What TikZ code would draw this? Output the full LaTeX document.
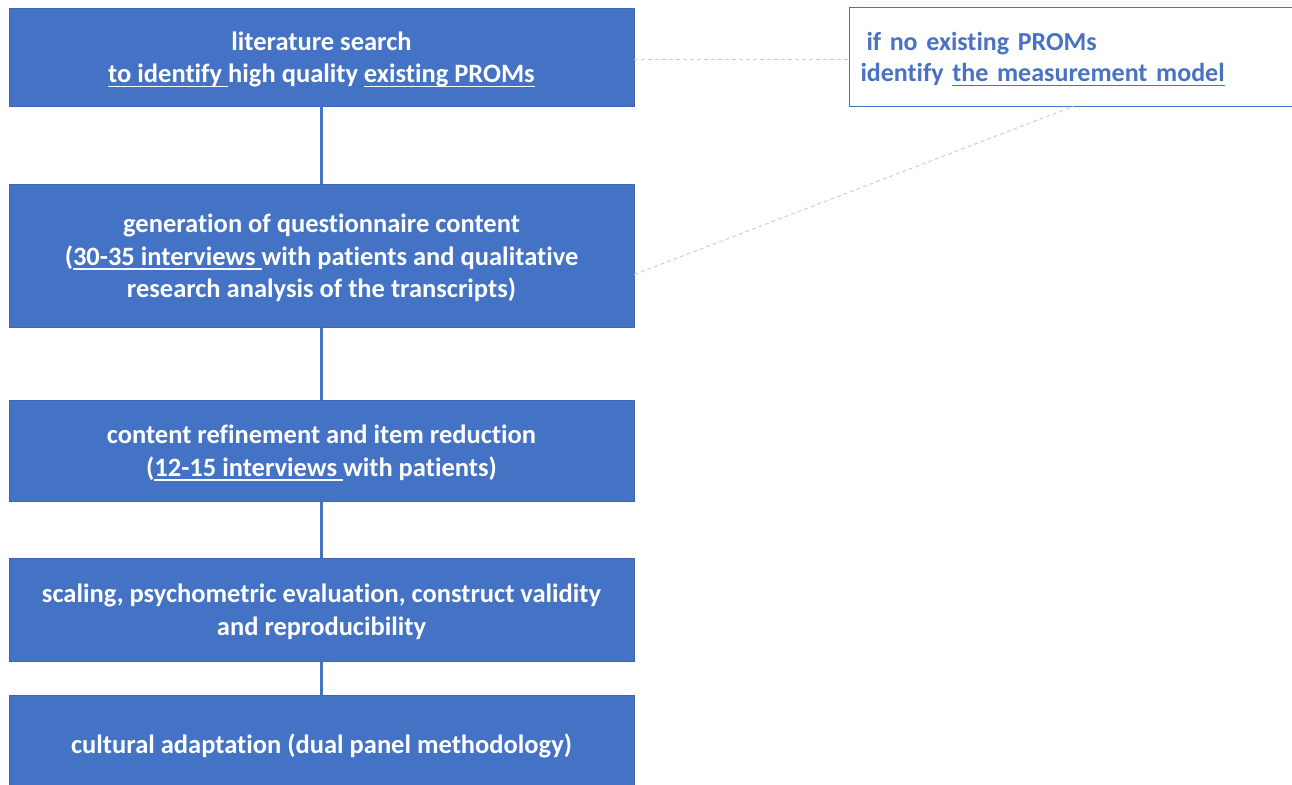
\documentclass[tikz,border=0pt]{standalone}
\usepackage{fontspec}
\setmainfont{Carlito}[Ligatures=NoCommon]
\definecolor{officeblue}{HTML}{4472C4}
\definecolor{notetext}{HTML}{4A72C2}
\definecolor{linkgray}{HTML}{C9CDD4}
\definecolor{linkblue}{HTML}{C3D2EC}
% underline at a fixed depth, in the current text colour
\newcommand{\ulx}[1]{\setbox0=\hbox{#1}\rlap{\rule[-4.5pt]{\wd0}{1.6pt}}\box0}
% a block of centred or left-aligned lines, set slightly low in its box
\newcommand{\ctext}[1]{\raisebox{-3pt}[\height][\depth]{\begin{tabular}{@{}c@{}}#1\end{tabular}}}
\newcommand{\ltext}[1]{\raisebox{-3pt}[\height][\depth]{\begin{tabular}{@{}l@{}}#1\end{tabular}}}
\begin{document}
\begin{tikzpicture}[x=1pt,y=-1pt,
  stage/.style={rectangle, fill=officeblue, draw=officeblue!90!black, line width=0.6pt,
    minimum width=625pt, text=white, inner sep=0pt,
    font=\fontsize{26.5}{32.5}\selectfont\bfseries},
  note/.style={rectangle, fill=white, draw=officeblue, line width=1pt,
    minimum width=447pt, minimum height=98pt, text=notetext,
    text width=425pt, inner xsep=11pt,
    font=\fontsize{26}{31}\selectfont\bfseries},
  flow/.style={draw=officeblue, line width=2.4pt},
  hint/.style={line width=1pt, dash pattern=on 4pt off 3pt}]
\useasboundingbox (0,0) rectangle (1292,784);
\fill[white] (0,0) rectangle (1292,784);

\node[stage, minimum height=98pt] (b1) at (321.5,57)
  {\ctext{literature search\\ \ulx{to identify }high quality \ulx{existing PROMs}}};
\node[stage, minimum height=143pt] (b2) at (321.5,255.5)
  {\ctext{generation of questionnaire content\\ (\ulx{30-35 interviews }with patients and qualitative\\ research analysis of the transcripts)}};
\node[stage, minimum height=101pt] (b3) at (321.5,450.5)
  {\ctext{content refinement and item reduction\\ (\ulx{12-15 interviews }with patients)}};
\node[stage, minimum height=103pt] (b4) at (321.5,609.5)
  {\ctext{scaling, psychometric evaluation, construct validity\\ and reproducibility}};
\node[stage, minimum height=97pt] (b5) at (321.5,743.5)
  {\ctext{cultural adaptation (dual panel methodology)}};

\node[note, anchor=west] (n1) at (849,57)
  {\ltext{\hspace{6pt}if no existing PROMs\\ identify \ulx{the measurement model}}};

\draw[flow] (b1.south) -- (b2.north);
\draw[flow] (b2.south) -- (b3.north);
\draw[flow] (b3.south) -- (b4.north);
\draw[flow] (b4.south) -- (b5.north);

\draw[hint, draw=linkgray] ([yshift=-3pt]b1.east) -- ([yshift=-3pt]n1.west);
\draw[hint, draw=linkblue] ([yshift=-19pt]b2.east) -- (n1.south);
\end{tikzpicture}
\end{document}
